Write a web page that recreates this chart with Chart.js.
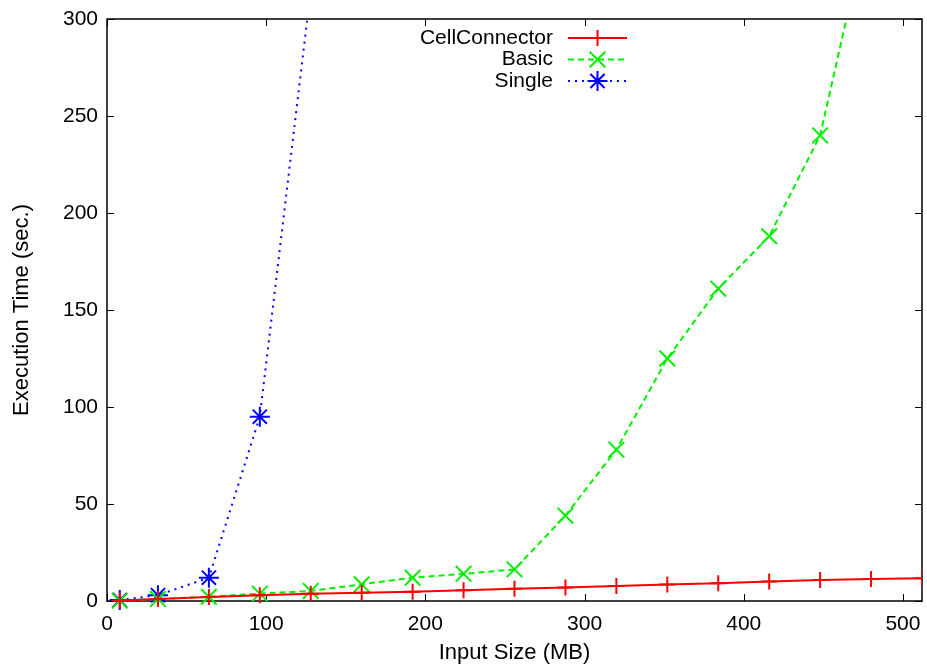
<!DOCTYPE html>
<html>
<head>
<meta charset="utf-8">
<script src="https://cdn.jsdelivr.net/npm/chart.js@4.4.0/dist/chart.umd.min.js"></script>
<style>
  html, body { margin: 0; padding: 0; background: #fff; }
  #wrap { width: 927px; height: 666px; }
</style>
</head>
<body>
<div id="wrap"><canvas id="grafico" width="927" height="666"></canvas></div>
<script>
// input sizes (MB) and execution times (sec.)
const tamanhos = [8, 32, 64, 96, 128, 160, 192, 224, 256, 288, 320, 352, 384, 416, 448, 480, 512];
const cellConnector = [0.3, 1, 2, 3, 3.8, 4.3, 4.8, 5.5, 6.3, 6.9, 7.7, 8.5, 9.2, 10, 10.8, 11.3, 11.7];
const basic = [0.2, 1, 2.2, 3.8, 5.2, 8.6, 12, 14, 16.3, 44, 78, 125, 161, 188, 240, 356];
const single = [0.5, 3, 12, 95, 315];
const xTicks = [0, 100, 200, 300, 400, 500];
const yTicks = [0, 50, 100, 150, 200, 250, 300];

const pares = serie => serie.map((v, i) => ({ x: tamanhos[i], y: v }));

Chart.defaults.font.family = "'Liberation Sans', Arial, sans-serif";
Chart.defaults.font.size = 21;
Chart.defaults.color = "#000";

// gnuplot style frame with inward ticks on all four sides
const moldura = {
  id: "moldura",
  beforeDatasetsDraw(chart) {
    const { ctx, chartArea: a, scales: { x, y } } = chart;
    ctx.save();
    ctx.strokeStyle = "#000";
    ctx.lineWidth = 1;
    ctx.beginPath();
    x.ticks.forEach(t => {
      const px = Math.round(x.getPixelForValue(t.value)) + 0.5;
      ctx.moveTo(px, a.bottom); ctx.lineTo(px, a.bottom - 7);
      ctx.moveTo(px, a.top); ctx.lineTo(px, a.top + 7);
    });
    y.ticks.forEach(t => {
      const py = Math.round(y.getPixelForValue(t.value)) + 0.5;
      ctx.moveTo(a.left, py); ctx.lineTo(a.left + 7, py);
      ctx.moveTo(a.right, py); ctx.lineTo(a.right - 7, py);
    });
    ctx.stroke();
    ctx.lineWidth = 1.5;
    ctx.strokeRect(a.left, a.top, a.right - a.left, a.bottom - a.top);
    ctx.restore();
  }
};

// key in the top middle: label right-aligned, then sample line with marker
const legenda = {
  id: "legenda",
  afterDatasetsDraw(chart, args, opts) {
    const { ctx } = chart;
    ctx.save();
    ctx.font = "21px 'Liberation Sans', Arial, sans-serif";
    ctx.textAlign = "right";
    ctx.textBaseline = "middle";
    chart.data.datasets.forEach((ds, i) => {
      const y = opts.top + i * opts.gap;
      ctx.fillStyle = "#000";
      ctx.fillText(ds.label, opts.textRight, y);
      ctx.strokeStyle = ds.borderColor;
      ctx.lineWidth = ds.borderWidth;
      ctx.setLineDash(ds.borderDash || []);
      ctx.beginPath();
      ctx.moveTo(opts.lineFrom, y);
      ctx.lineTo(opts.lineTo, y);
      ctx.stroke();
      ctx.setLineDash([]);
      ctx.lineWidth = ds.pointBorderWidth;
      Chart.helpers.drawPoint(ctx, {
        pointStyle: ds.pointStyle,
        radius: ds.pointRadius,
        rotation: 0,
        borderWidth: ds.pointBorderWidth
      }, (opts.lineFrom + opts.lineTo) / 2, y);
    });
    ctx.restore();
  }
};

const semSobra = s => { s.paddingLeft = 0; s.paddingRight = 0; s.paddingTop = 0; s.paddingBottom = 0; };

new Chart(document.getElementById("grafico"), {
  type: "line",
  data: {
    datasets: [
      {
        label: "CellConnector",
        data: pares(cellConnector),
        borderColor: "#ff0000",
        backgroundColor: "#ff0000",
        borderWidth: 2,
        pointStyle: "cross",
        pointRadius: 8,
        pointBorderWidth: 2
      },
      {
        label: "Basic",
        data: pares(basic),
        borderColor: "#00f000",
        backgroundColor: "#00f000",
        borderWidth: 2,
        borderDash: [6, 4],
        pointStyle: "crossRot",
        pointRadius: 11,
        pointBorderWidth: 2
      },
      {
        label: "Single",
        data: pares(single),
        borderColor: "#0000ff",
        backgroundColor: "#0000ff",
        borderWidth: 2,
        borderDash: [2, 5],
        pointStyle: "star",
        pointRadius: 10,
        pointBorderWidth: 2
      }
    ]
  },
  options: {
    responsive: false,
    animation: false,
    devicePixelRatio: 1,
    layout: { autoPadding: false, padding: { top: 19, right: 5, left: 0, bottom: 0 } },
    elements: { line: { tension: 0, fill: false } },
    datasets: { line: { clip: { left: 15, top: 0, right: 0, bottom: 15 } } },
    plugins: {
      legend: { display: false },
      tooltip: { enabled: false },
      legenda: { top: 38, gap: 21.5, textRight: 553, lineFrom: 568, lineTo: 627 }
    },
    scales: {
      x: {
        type: "linear",
        min: 0,
        max: 512,
        afterBuildTicks: s => { s.ticks = xTicks.map(v => ({ value: v })); },
        afterFit: s => { s.height = 65; semSobra(s); },
        grid: { display: false, drawTicks: false },
        border: { display: false },
        ticks: { padding: 11, maxRotation: 0, font: { size: 21 } },
        title: { display: true, text: "Input Size (MB)", font: { size: 22 }, padding: { top: 0, bottom: 0 } }
      },
      y: {
        type: "linear",
        min: 0,
        max: 300,
        afterBuildTicks: s => { s.ticks = yTicks.map(v => ({ value: v })); },
        afterFit: s => { s.width = 107; semSobra(s); },
        grid: { display: false, drawTicks: false },
        border: { display: false },
        ticks: { padding: 9, font: { size: 21 } },
        title: { display: true, text: "Execution Time (sec.)", font: { size: 22 }, padding: { top: 9, bottom: 0 } }
      }
    }
  },
  plugins: [moldura, legenda]
});
</script>
</body>
</html>
